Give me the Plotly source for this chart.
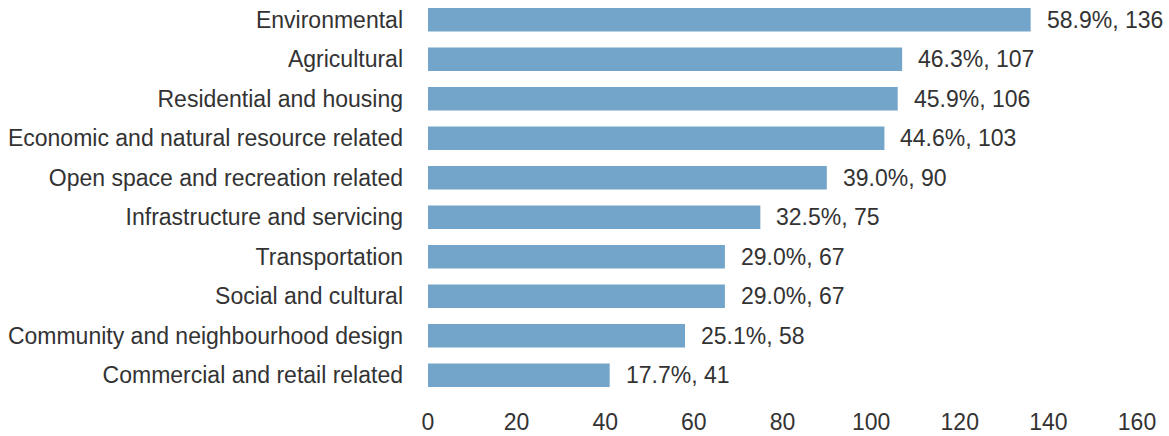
import plotly.graph_objects as go

categories = [
    "Environmental",
    "Agricultural",
    "Residential and housing",
    "Economic and natural resource related",
    "Open space and recreation related",
    "Infrastructure and servicing",
    "Transportation",
    "Social and cultural",
    "Community and neighbourhood design",
    "Commercial and retail related",
]
counts = [136, 107, 106, 103, 90, 75, 67, 67, 58, 41]
percents = [58.9, 46.3, 45.9, 44.6, 39.0, 32.5, 29.0, 29.0, 25.1, 17.7]
x_ticks = [0, 20, 40, 60, 80, 100, 120, 140, 160]

labels = [f"{p:.1f}%, {c}" for p, c in zip(percents, counts)]

FONT = "Liberation Sans, Arial, sans-serif"
TEXT_COLOR = "#333333"
BAR_COLOR = "#72a5c9"

fig = go.Figure(
    go.Bar(
        x=counts,
        y=categories,
        orientation="h",
        marker=dict(color=BAR_COLOR, line=dict(width=0)),
        hoverinfo="skip",
    )
)

for cat, val, lab in zip(categories, counts, labels):
    fig.add_annotation(
        x=val, y=cat, text=lab, xanchor="left", yanchor="middle",
        xshift=14, showarrow=False,
        font=dict(family=FONT, size=23, color=TEXT_COLOR),
    )

fig.update_layout(
    width=1169, height=436,
    margin=dict(l=428, r=32, t=0, b=41),
    paper_bgcolor="white", plot_bgcolor="white",
    bargap=0.405,
    showlegend=False,
    font=dict(family=FONT, size=23, color=TEXT_COLOR),
    xaxis=dict(
        range=[0, 160], tickvals=x_ticks, showgrid=False, zeroline=False,
        showline=False, ticks="", tickfont=dict(family=FONT, size=23, color=TEXT_COLOR),
        ticklabelstandoff=11,
    ),
    yaxis=dict(
        categoryorder="array", categoryarray=categories[::-1],
        showgrid=False, zeroline=False, showline=False, ticks="",
        ticklabelstandoff=24,
        tickfont=dict(family=FONT, size=23, color=TEXT_COLOR),
    ),
)

fig.write_html("out.html")
